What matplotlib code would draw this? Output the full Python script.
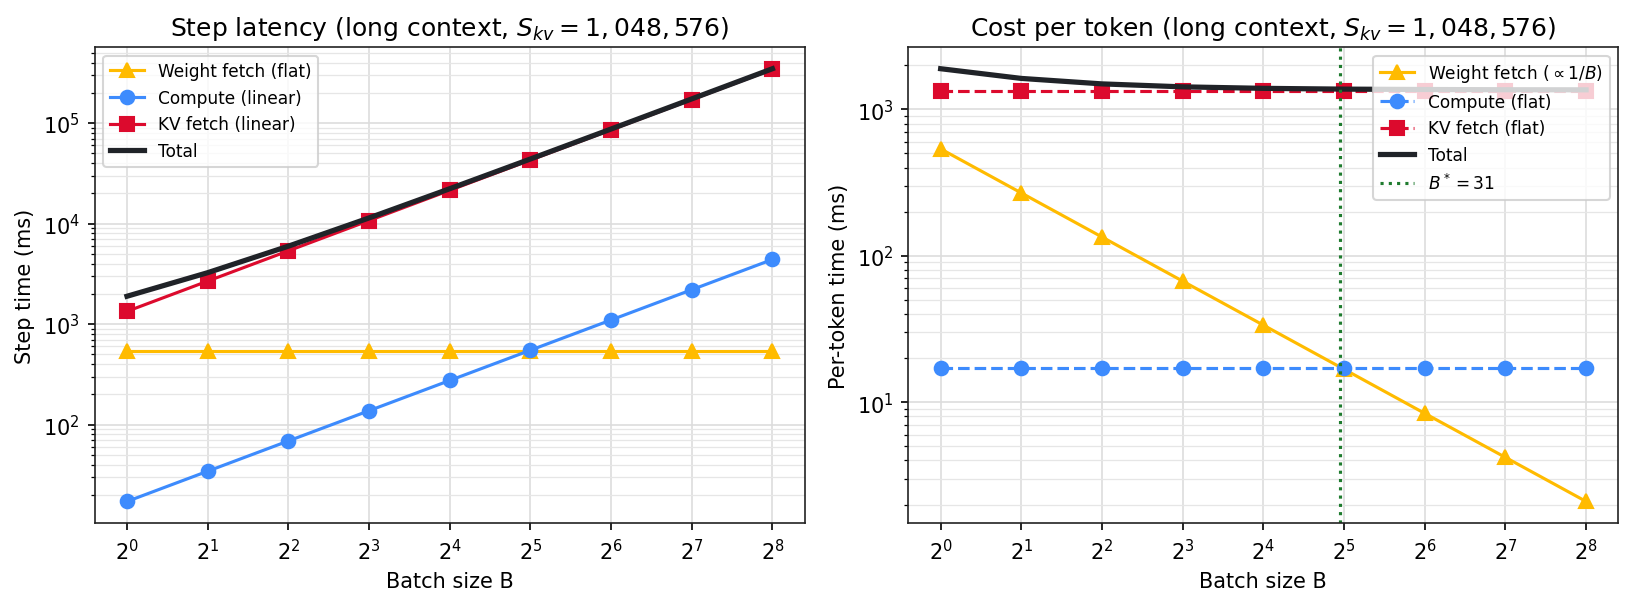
import matplotlib

matplotlib.use("Agg")
import matplotlib.pyplot as plt  # noqa: E402

# batch sizes and per-component timings (ms)
batch = [1, 2, 4, 8, 16, 32, 64, 128, 256]

step_weight = [537, 537, 537, 537, 537, 537, 537, 537, 537]
step_compute = [17.2, 34.4, 68.8, 137.6, 275, 550, 1100, 2200, 4400]
step_kv = [1340, 2680, 5360, 10720, 21440, 42880, 85760, 171520, 343040]
step_total = [1894, 3251, 5966, 11395, 22252, 43967, 87397, 174257, 347977]

tok_weight = [537, 268.5, 134.3, 67.1, 33.6, 16.8, 8.39, 4.20, 2.10]
tok_compute = [17.2, 17.2, 17.2, 17.2, 17.2, 17.2, 17.2, 17.2, 17.2]
tok_kv = [1340, 1340, 1340, 1340, 1340, 1340, 1340, 1340, 1340]
tok_total = [1894, 1626, 1492, 1424, 1391, 1374, 1366, 1361, 1359]

b_star = 31

C_WEIGHT = "#FFBB00"
C_COMPUTE = "#3D8BFD"
C_KV = "#DC0A2D"
C_TOTAL = "#202328"
C_BSTAR = "#1E7B2E"

title_ctx = r"(long context, $S_{kv} = 1,048,576$)"

fig, (ax1, ax2) = plt.subplots(1, 2, figsize=(10.887, 4.053), dpi=150)
fig.subplots_adjust(left=0.058, right=0.991, bottom=0.138, top=0.921, wspace=0.146)

ax1.plot(batch, step_weight, "-^", color=C_WEIGHT, lw=1.5, ms=6.5, label="Weight fetch (flat)")
ax1.plot(batch, step_compute, "-o", color=C_COMPUTE, lw=1.5, ms=6.5, label="Compute (linear)")
ax1.plot(batch, step_kv, "-s", color=C_KV, lw=1.5, ms=6.5, label="KV fetch (linear)")
ax1.plot(batch, step_total, "-", color=C_TOTAL, lw=2.5, label="Total")
ax1.set_title("Step latency " + title_ctx)
ax1.set_ylabel("Step time (ms)")
ax1.legend(loc="upper left", fontsize=8.2)

ax2.plot(batch, tok_weight, "-^", color=C_WEIGHT, lw=1.5, ms=6.5, label=r"Weight fetch ($\propto 1/B$)")
ax2.plot(batch, tok_compute, "--o", color=C_COMPUTE, lw=1.5, ms=6.5, label="Compute (flat)")
ax2.plot(batch, tok_kv, "--s", color=C_KV, lw=1.5, ms=6.5, label="KV fetch (flat)")
ax2.plot(batch, tok_total, "-", color=C_TOTAL, lw=2.5, label="Total")
ax2.axvline(b_star, color=C_BSTAR, ls=":", lw=1.5, label=rf"$B^* = {b_star}$")
ax2.set_title("Cost per token " + title_ctx)
ax2.set_ylabel("Per-token time (ms)")
ax2.legend(loc="upper right", fontsize=8.2)

for ax in (ax1, ax2):
    ax.set_xscale("log", base=2)
    ax.set_yscale("log")
    ax.set_xticks(batch)
    ax.set_xlabel("Batch size B")
    ax.grid(True, which="major", color="#dddddd", lw=0.8)
    ax.grid(True, which="minor", axis="y", color="#e6e6e6", lw=0.6)
    ax.set_axisbelow(True)
    for sp in ax.spines.values():
        sp.set_color("#222222")

fig.savefig("out.png", dpi=150)
